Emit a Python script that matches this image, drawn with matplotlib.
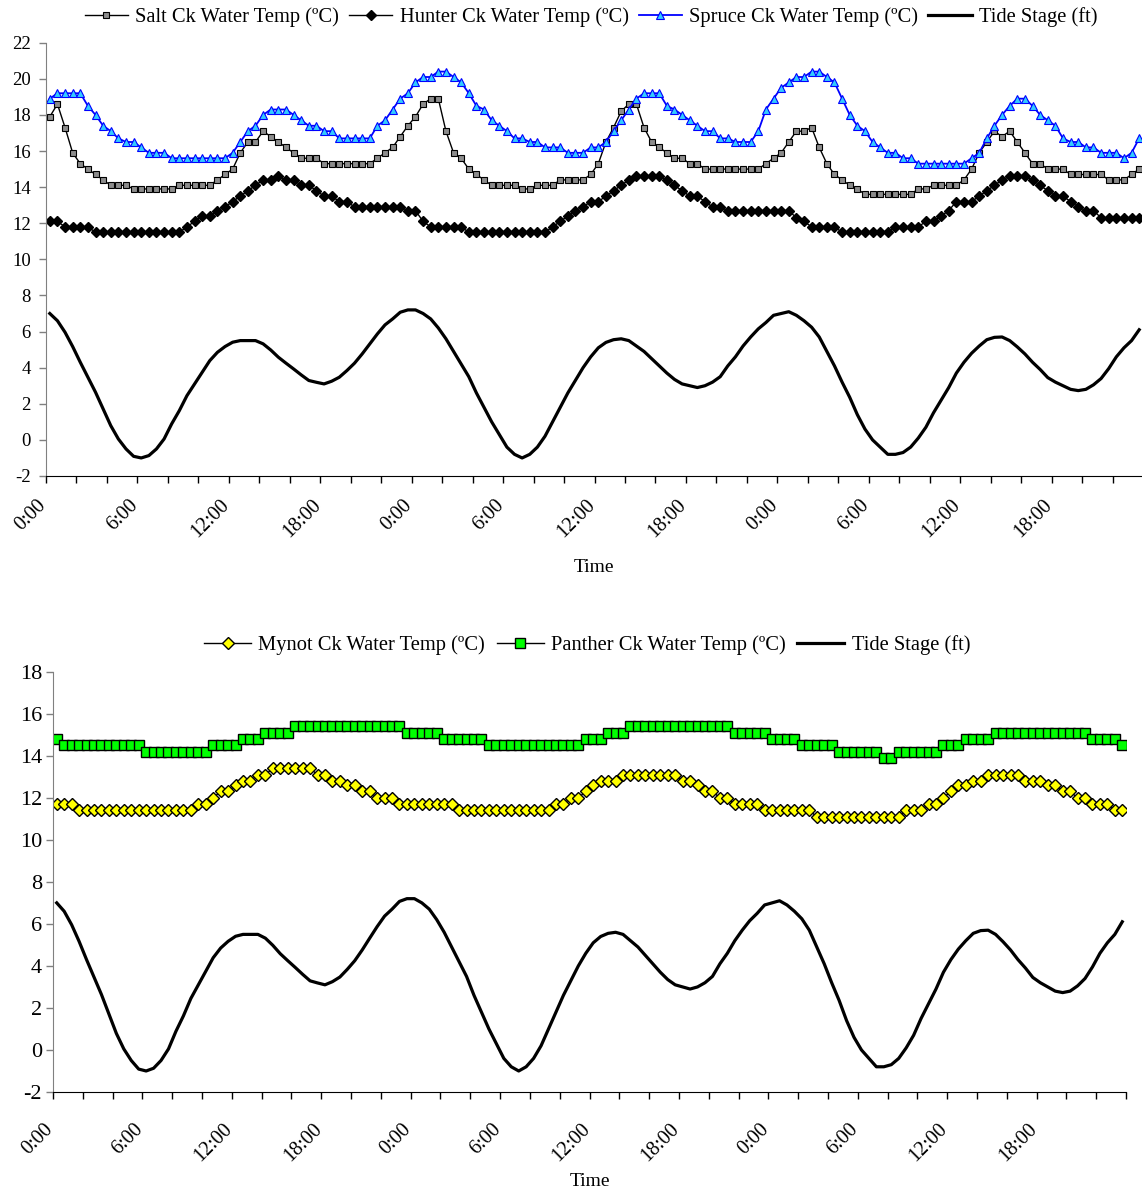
import matplotlib
matplotlib.use("Agg")
import matplotlib.pyplot as plt
import numpy as np
from matplotlib.transforms import ScaledTranslation

plt.rcParams['font.family'] = ['Liberation Serif', 'DejaVu Serif']
plt.rcParams['axes.unicode_minus'] = False

# Half-hourly readings over three days (144 samples per series)
time_labels = ['0:00', '6:00', '12:00', '18:00'] * 3

salt = [
    17.9, 18.6, 17.3, 15.9, 15.3, 15.0, 14.7, 14.4, 14.1, 14.1,
    14.1, 13.9, 13.9, 13.9, 13.9, 13.9, 13.9, 14.1, 14.1, 14.1,
    14.1, 14.1, 14.4, 14.7, 15.0, 15.9, 16.5, 16.5, 17.1, 16.8,
    16.5, 16.2, 15.9, 15.6, 15.6, 15.6, 15.3, 15.3, 15.3, 15.3,
    15.3, 15.3, 15.3, 15.6, 15.9, 16.2, 16.8, 17.4, 17.9, 18.6,
    18.9, 18.9, 17.1, 15.9, 15.6, 15.0, 14.7, 14.4, 14.1, 14.1,
    14.1, 14.1, 13.9, 13.9, 14.1, 14.1, 14.1, 14.4, 14.4, 14.4,
    14.4, 14.7, 15.3, 16.5, 17.3, 18.2, 18.6, 18.6, 17.3, 16.5,
    16.2, 15.9, 15.6, 15.6, 15.3, 15.3, 15.0, 15.0, 15.0, 15.0,
    15.0, 15.0, 15.0, 15.0, 15.3, 15.6, 15.9, 16.5, 17.1, 17.1,
    17.3, 16.2, 15.3, 14.7, 14.4, 14.1, 13.9, 13.6, 13.6, 13.6,
    13.6, 13.6, 13.6, 13.6, 13.9, 13.9, 14.1, 14.1, 14.1, 14.1,
    14.4, 15.0, 15.9, 16.5, 17.1, 16.8, 17.1, 16.5, 15.9, 15.3,
    15.3, 15.0, 15.0, 15.0, 14.7, 14.7, 14.7, 14.7, 14.7, 14.4,
    14.4, 14.4, 14.7, 15.0]

hunter = [
    12.1, 12.1, 11.8, 11.8, 11.8, 11.8, 11.5, 11.5, 11.5, 11.5,
    11.5, 11.5, 11.5, 11.5, 11.5, 11.5, 11.5, 11.5, 11.8, 12.1,
    12.4, 12.4, 12.7, 12.9, 13.2, 13.5, 13.8, 14.1, 14.4, 14.4,
    14.6, 14.4, 14.4, 14.1, 14.1, 13.8, 13.5, 13.5, 13.2, 13.2,
    12.9, 12.9, 12.9, 12.9, 12.9, 12.9, 12.9, 12.7, 12.7, 12.1,
    11.8, 11.8, 11.8, 11.8, 11.8, 11.5, 11.5, 11.5, 11.5, 11.5,
    11.5, 11.5, 11.5, 11.5, 11.5, 11.5, 11.8, 12.1, 12.4, 12.7,
    12.9, 13.2, 13.2, 13.5, 13.8, 14.1, 14.4, 14.6, 14.6, 14.6,
    14.6, 14.4, 14.1, 13.8, 13.5, 13.5, 13.2, 12.9, 12.9, 12.7,
    12.7, 12.7, 12.7, 12.7, 12.7, 12.7, 12.7, 12.7, 12.3, 12.1,
    11.8, 11.8, 11.8, 11.8, 11.5, 11.5, 11.5, 11.5, 11.5, 11.5,
    11.5, 11.8, 11.8, 11.8, 11.8, 12.1, 12.1, 12.4, 12.7, 13.2,
    13.2, 13.2, 13.5, 13.8, 14.1, 14.4, 14.6, 14.6, 14.6, 14.4,
    14.1, 13.8, 13.5, 13.5, 13.2, 12.9, 12.7, 12.7, 12.3, 12.3,
    12.3, 12.3, 12.3, 12.3]

spruce = [
    18.9, 19.2, 19.2, 19.2, 19.2, 18.5, 18.0, 17.4, 17.1, 16.7,
    16.5, 16.5, 16.2, 15.9, 15.9, 15.9, 15.6, 15.6, 15.6, 15.6,
    15.6, 15.6, 15.6, 15.6, 15.9, 16.5, 17.1, 17.4, 18.0, 18.3,
    18.3, 18.3, 18.0, 17.7, 17.4, 17.4, 17.1, 17.1, 16.7, 16.7,
    16.7, 16.7, 16.7, 17.4, 17.7, 18.3, 18.9, 19.2, 19.8, 20.1,
    20.1, 20.4, 20.4, 20.1, 19.8, 19.2, 18.5, 18.3, 17.7, 17.4,
    17.1, 16.7, 16.7, 16.5, 16.5, 16.2, 16.2, 16.2, 15.9, 15.9,
    15.9, 16.2, 16.2, 16.5, 17.1, 17.7, 18.3, 18.9, 19.2, 19.2,
    19.2, 18.5, 18.3, 18.0, 17.7, 17.4, 17.1, 17.1, 16.7, 16.7,
    16.5, 16.5, 16.5, 17.1, 18.3, 18.9, 19.5, 19.8, 20.1, 20.1,
    20.4, 20.4, 20.1, 19.8, 18.9, 18.0, 17.4, 17.1, 16.5, 16.2,
    15.9, 15.9, 15.6, 15.6, 15.3, 15.3, 15.3, 15.3, 15.3, 15.3,
    15.3, 15.6, 15.9, 16.7, 17.4, 18.0, 18.5, 18.9, 18.9, 18.5,
    18.0, 17.7, 17.4, 16.7, 16.5, 16.5, 16.2, 16.2, 15.9, 15.9,
    15.9, 15.6, 15.9, 16.7]

tide = [
    7.0, 6.6, 5.96, 5.17, 4.3, 3.47, 2.64, 1.72, 0.79, 0.05,
    -0.5, -0.91, -1.0, -0.87, -0.5, 0.05, 0.89, 1.62, 2.45, 3.1,
    3.75, 4.39, 4.85, 5.17, 5.41, 5.5, 5.5, 5.5, 5.32, 4.98,
    4.58, 4.25, 3.93, 3.6, 3.29, 3.19, 3.1, 3.25, 3.47, 3.84,
    4.25, 4.76, 5.32, 5.87, 6.37, 6.7, 7.07, 7.2, 7.2, 7.0,
    6.7, 6.2, 5.6, 4.9, 4.2, 3.5, 2.6, 1.8, 1.0, 0.3,
    -0.4, -0.8, -1.0, -0.8, -0.4, 0.2, 1.0, 1.8, 2.6, 3.3,
    4.0, 4.6, 5.1, 5.4, 5.55, 5.6, 5.5, 5.2, 4.9, 4.5,
    4.1, 3.7, 3.35, 3.1, 3.0, 2.9, 3.0, 3.2, 3.5, 4.1,
    4.6, 5.2, 5.7, 6.15, 6.5, 6.9, 7.0, 7.1, 6.9, 6.6,
    6.24, 5.7, 4.9, 4.1, 3.2, 2.36, 1.4, 0.6, 0.0, -0.4,
    -0.8, -0.8, -0.7, -0.4, 0.1, 0.7, 1.5, 2.2, 2.9, 3.7,
    4.3, 4.8, 5.2, 5.55, 5.68, 5.7, 5.5, 5.15, 4.76, 4.3,
    3.9, 3.45, 3.2, 3.0, 2.8, 2.73, 2.8, 3.05, 3.4, 3.95,
    4.6, 5.1, 5.5, 6.1]

mynot = [
    11.7, 11.7, 11.7, 11.4, 11.4, 11.4, 11.4, 11.4, 11.4, 11.4,
    11.4, 11.4, 11.4, 11.4, 11.4, 11.4, 11.4, 11.4, 11.4, 11.7,
    11.7, 12.0, 12.3, 12.3, 12.6, 12.8, 12.8, 13.1, 13.1, 13.4,
    13.4, 13.4, 13.4, 13.4, 13.4, 13.1, 13.1, 12.8, 12.8, 12.6,
    12.6, 12.3, 12.3, 12.0, 12.0, 12.0, 11.7, 11.7, 11.7, 11.7,
    11.7, 11.7, 11.7, 11.7, 11.4, 11.4, 11.4, 11.4, 11.4, 11.4,
    11.4, 11.4, 11.4, 11.4, 11.4, 11.4, 11.4, 11.7, 11.7, 12.0,
    12.0, 12.3, 12.6, 12.8, 12.8, 12.8, 13.1, 13.1, 13.1, 13.1,
    13.1, 13.1, 13.1, 13.1, 12.8, 12.8, 12.6, 12.3, 12.3, 12.0,
    12.0, 11.7, 11.7, 11.7, 11.7, 11.4, 11.4, 11.4, 11.4, 11.4,
    11.4, 11.4, 11.1, 11.1, 11.1, 11.1, 11.1, 11.1, 11.1, 11.1,
    11.1, 11.1, 11.1, 11.1, 11.4, 11.4, 11.4, 11.7, 11.7, 12.0,
    12.3, 12.6, 12.6, 12.8, 12.8, 13.1, 13.1, 13.1, 13.1, 13.1,
    12.8, 12.8, 12.8, 12.6, 12.6, 12.3, 12.3, 12.0, 12.0, 11.7,
    11.7, 11.7, 11.4, 11.4]

panther = [
    14.8, 14.5, 14.5, 14.5, 14.5, 14.5, 14.5, 14.5, 14.5, 14.5,
    14.5, 14.5, 14.2, 14.2, 14.2, 14.2, 14.2, 14.2, 14.2, 14.2,
    14.2, 14.5, 14.5, 14.5, 14.5, 14.8, 14.8, 14.8, 15.1, 15.1,
    15.1, 15.1, 15.4, 15.4, 15.4, 15.4, 15.4, 15.4, 15.4, 15.4,
    15.4, 15.4, 15.4, 15.4, 15.4, 15.4, 15.4, 15.1, 15.1, 15.1,
    15.1, 15.1, 14.8, 14.8, 14.8, 14.8, 14.8, 14.8, 14.5, 14.5,
    14.5, 14.5, 14.5, 14.5, 14.5, 14.5, 14.5, 14.5, 14.5, 14.5,
    14.5, 14.8, 14.8, 14.8, 15.1, 15.1, 15.1, 15.4, 15.4, 15.4,
    15.4, 15.4, 15.4, 15.4, 15.4, 15.4, 15.4, 15.4, 15.4, 15.4,
    15.4, 15.1, 15.1, 15.1, 15.1, 15.1, 14.8, 14.8, 14.8, 14.8,
    14.5, 14.5, 14.5, 14.5, 14.5, 14.2, 14.2, 14.2, 14.2, 14.2,
    14.2, 13.9, 13.9, 14.2, 14.2, 14.2, 14.2, 14.2, 14.2, 14.5,
    14.5, 14.5, 14.8, 14.8, 14.8, 14.8, 15.1, 15.1, 15.1, 15.1,
    15.1, 15.1, 15.1, 15.1, 15.1, 15.1, 15.1, 15.1, 15.1, 14.8,
    14.8, 14.8, 14.8, 14.5]

W, H = 1142, 1194
fig = plt.figure(figsize=(W / 100, H / 100), dpi=100)


def axes_px(left, top, right, bottom):
    return fig.add_axes([left / W, 1 - bottom / H, (right - left) / W, (bottom - top) / H])


def style(ax, ymin, ymax, ysize, ypad, xpad, xshift):
    n = len(tide)
    ax.set_xlim(-0.5, n - 0.5)
    ax.set_ylim(ymin, ymax)
    ax.set_yticks(np.arange(ymin, ymax + 1, 2))
    for s in ('top', 'right'):
        ax.spines[s].set_visible(False)
    ax.spines['left'].set_color('#808080')
    ax.spines['bottom'].set_color('black')
    ax.tick_params(axis='y', direction='out', length=5, width=1, color='#808080',
                   labelsize=ysize, pad=ypad)
    ax.set_xticks(np.arange(-0.5, n - 1, 12))
    ax.set_xticks(np.arange(-0.5, n, 4), minor=True)
    ax.set_xticklabels(time_labels, rotation=45, ha='right', rotation_mode='anchor')
    ax.tick_params(axis='x', which='both', direction='out', length=5, width=1,
                   color='black', labelsize=14.5, pad=xpad)
    shift = ScaledTranslation(xshift / 100, 0, fig.dpi_scale_trans)
    for lab in ax.get_xticklabels():
        lab.set_transform(lab.get_transform() + shift)


x = np.arange(len(tide))

# Upper panel: Salt, Hunter and Spruce creeks
ax1 = axes_px(46, 42.7, 1143, 476)
style(ax1, -2, 22, 13.5, 6, 9, -9)
h_salt, = ax1.plot(x, salt, color='black', lw=1, marker='s', ms=4.6,
                   mfc='#8C8C8C', mec='black', mew=0.8)
h_hunter, = ax1.plot(x, hunter, color='black', lw=1, marker='D', ms=4.8,
                     mfc='black', mec='black')
h_spruce, = ax1.plot(x, spruce, color='#0000FF', lw=1.3, marker='^', ms=5.5,
                     mfc='#33CCFF', mec='#0000FF', mew=0.8)
h_tide1, = ax1.plot(x, tide, color='black', lw=2.3)
fig.legend([h_salt, h_hunter, h_spruce, h_tide1],
           ['Salt Ck Water Temp (ºC)', 'Hunter Ck Water Temp (ºC)',
            'Spruce Ck Water Temp (ºC)', 'Tide Stage (ft)'],
           loc='center', bbox_to_anchor=(591 / W, 1 - 17 / H), ncol=4, frameon=False,
           fontsize=14.8, handlelength=2.1, handletextpad=0.35, columnspacing=0.5,
           borderpad=0, borderaxespad=0)
fig.text(594 / W, 1 - 567 / H, 'Time', ha='center', va='center', fontsize=14)

# Lower panel: Mynot and Panther creeks
ax2 = axes_px(53, 671.7, 1126, 1092)
style(ax2, -2, 18, 16, 3, 15, -9)
h_mynot, = ax2.plot(x, mynot, color='black', lw=1, marker='D', ms=6,
                    mfc='#FFFF00', mec='black', mew=1)
h_panther, = ax2.plot(x, panther, color='black', lw=1, marker='s', ms=6.5,
                      mfc='#00FF00', mec='black', mew=1)
h_tide2, = ax2.plot(x, tide, color='black', lw=2.3)
fig.legend([h_mynot, h_panther, h_tide2],
           ['Mynot Ck Water Temp (ºC)', 'Panther Ck Water Temp (ºC)', 'Tide Stage (ft)'],
           loc='center', bbox_to_anchor=(587 / W, 1 - 645 / H), ncol=3, frameon=False,
           fontsize=14.8, handlelength=2.3, handletextpad=0.35, columnspacing=0.55,
           borderpad=0, borderaxespad=0)
fig.text(590 / W, 1 - 1182 / H, 'Time', ha='center', va='center', fontsize=14)

fig.savefig('out.png', dpi=100)
